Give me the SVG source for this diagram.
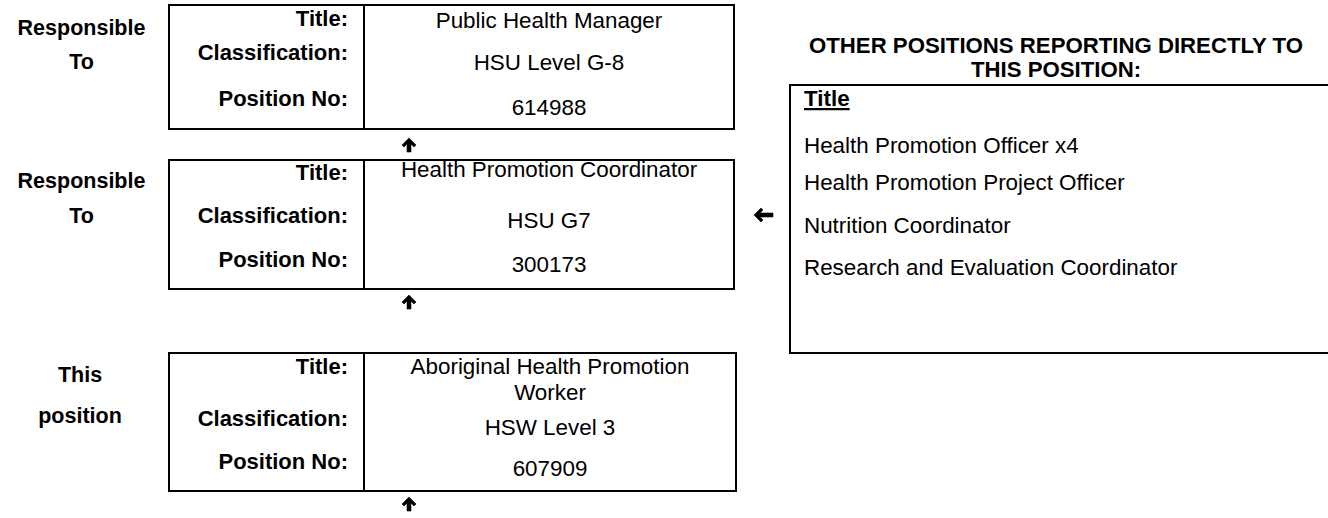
<svg xmlns="http://www.w3.org/2000/svg" xmlns:xlink="http://www.w3.org/1999/xlink" width="1328" height="518" viewBox="0 0 1328 518">
  <style>
    .box { fill: none; stroke: #000; stroke-width: 2; }
    .lbl { font-family: "Liberation Sans", Arial, sans-serif; font-size: 22px; font-weight: bold; fill: #000; text-anchor: end; }
    .side { font-family: "Liberation Sans", Arial, sans-serif; font-size: 21.5px; font-weight: bold; fill: #000; text-anchor: middle; }
    .val { font-family: "Liberation Sans", Arial, sans-serif; font-size: 22.4px; fill: #000; text-anchor: middle; }
    .item { font-family: "Liberation Sans", Arial, sans-serif; font-size: 22.4px; fill: #000; }
    .hdr { font-family: "Liberation Sans", Arial, sans-serif; font-size: 22.2px; font-weight: bold; fill: #000; text-anchor: middle; }
    .arr { fill: #000; stroke: #000; stroke-width: 0.6; stroke-linejoin: miter; }
  </style>
  <defs>
    <path id="arrowUp" class="arr" d="M0,0 L7,7 L5,9 L2,6 L2,14 L-2,14 L-2,6 L-5,9 L-7,7 Z"/>
    <path id="arrowLeft" class="arr" d="M0,0 L7,-7 L9,-5 L6,-2 L19,-2 L19,2 L6,2 L9,5 L7,7 Z"/>
  </defs>
  <rect width="1328" height="518" fill="#fff"/>

  <g id="side-labels">
    <text class="side" x="81.5" y="35">Responsible</text>
    <text class="side" x="81.5" y="69">To</text>
    <text class="side" x="81.5" y="188">Responsible</text>
    <text class="side" x="81.5" y="223">To</text>
    <text class="side" x="80" y="382">This</text>
    <text class="side" x="80" y="423">position</text>
  </g>

  <g id="node-manager">
    <rect class="box" x="169" y="5" width="565" height="124"/>
    <line class="box" x1="364" y1="5" x2="364" y2="129"/>
    <text class="lbl" x="348" y="26">Title:</text>
    <text class="lbl" x="348" y="60">Classification:</text>
    <text class="lbl" x="348" y="106">Position No:</text>
    <text class="val" x="549" y="28">Public Health Manager</text>
    <text class="val" x="549" y="70">HSU Level G-8</text>
    <text class="val" x="549" y="115">614988</text>
  </g>

  <g id="node-coordinator">
    <rect class="box" x="169" y="160" width="565" height="129"/>
    <line class="box" x1="364" y1="160" x2="364" y2="289"/>
    <text class="lbl" x="348" y="180">Title:</text>
    <text class="lbl" x="348" y="223">Classification:</text>
    <text class="lbl" x="348" y="267">Position No:</text>
    <text class="val" x="549" y="177">Health Promotion Coordinator</text>
    <text class="val" x="549" y="228">HSU G7</text>
    <text class="val" x="549" y="272">300173</text>
  </g>

  <g id="node-this-position">
    <rect class="box" x="169" y="353" width="567" height="138"/>
    <line class="box" x1="364" y1="353" x2="364" y2="491"/>
    <text class="lbl" x="348" y="374">Title:</text>
    <text class="lbl" x="348" y="426">Classification:</text>
    <text class="lbl" x="348" y="469">Position No:</text>
    <text class="val" x="550" y="374">Aboriginal Health Promotion</text>
    <text class="val" x="550" y="400">Worker</text>
    <text class="val" x="550" y="435">HSW Level 3</text>
    <text class="val" x="550" y="476">607909</text>
  </g>

  <g id="node-other-positions">
    <text class="hdr" x="1056" y="53">OTHER POSITIONS REPORTING DIRECTLY TO</text>
    <text class="hdr" x="1056" y="77">THIS POSITION:</text>
    <rect class="box" x="790" y="85" width="560" height="268"/>
    <text class="item" x="804" y="106" font-weight="bold" text-decoration="underline">Title</text>
    <text class="item" x="804" y="153">Health Promotion Officer x4</text>
    <text class="item" x="804" y="190">Health Promotion Project Officer</text>
    <text class="item" x="804" y="233">Nutrition Coordinator</text>
    <text class="item" x="804" y="275">Research and Evaluation Coordinator</text>
  </g>

  <g id="connectors">
    <use xlink:href="#arrowUp" x="409" y="138"/>
    <use xlink:href="#arrowUp" x="409" y="295"/>
    <use xlink:href="#arrowUp" x="409" y="497"/>
    <use xlink:href="#arrowLeft" x="754" y="215"/>
  </g>
</svg>
